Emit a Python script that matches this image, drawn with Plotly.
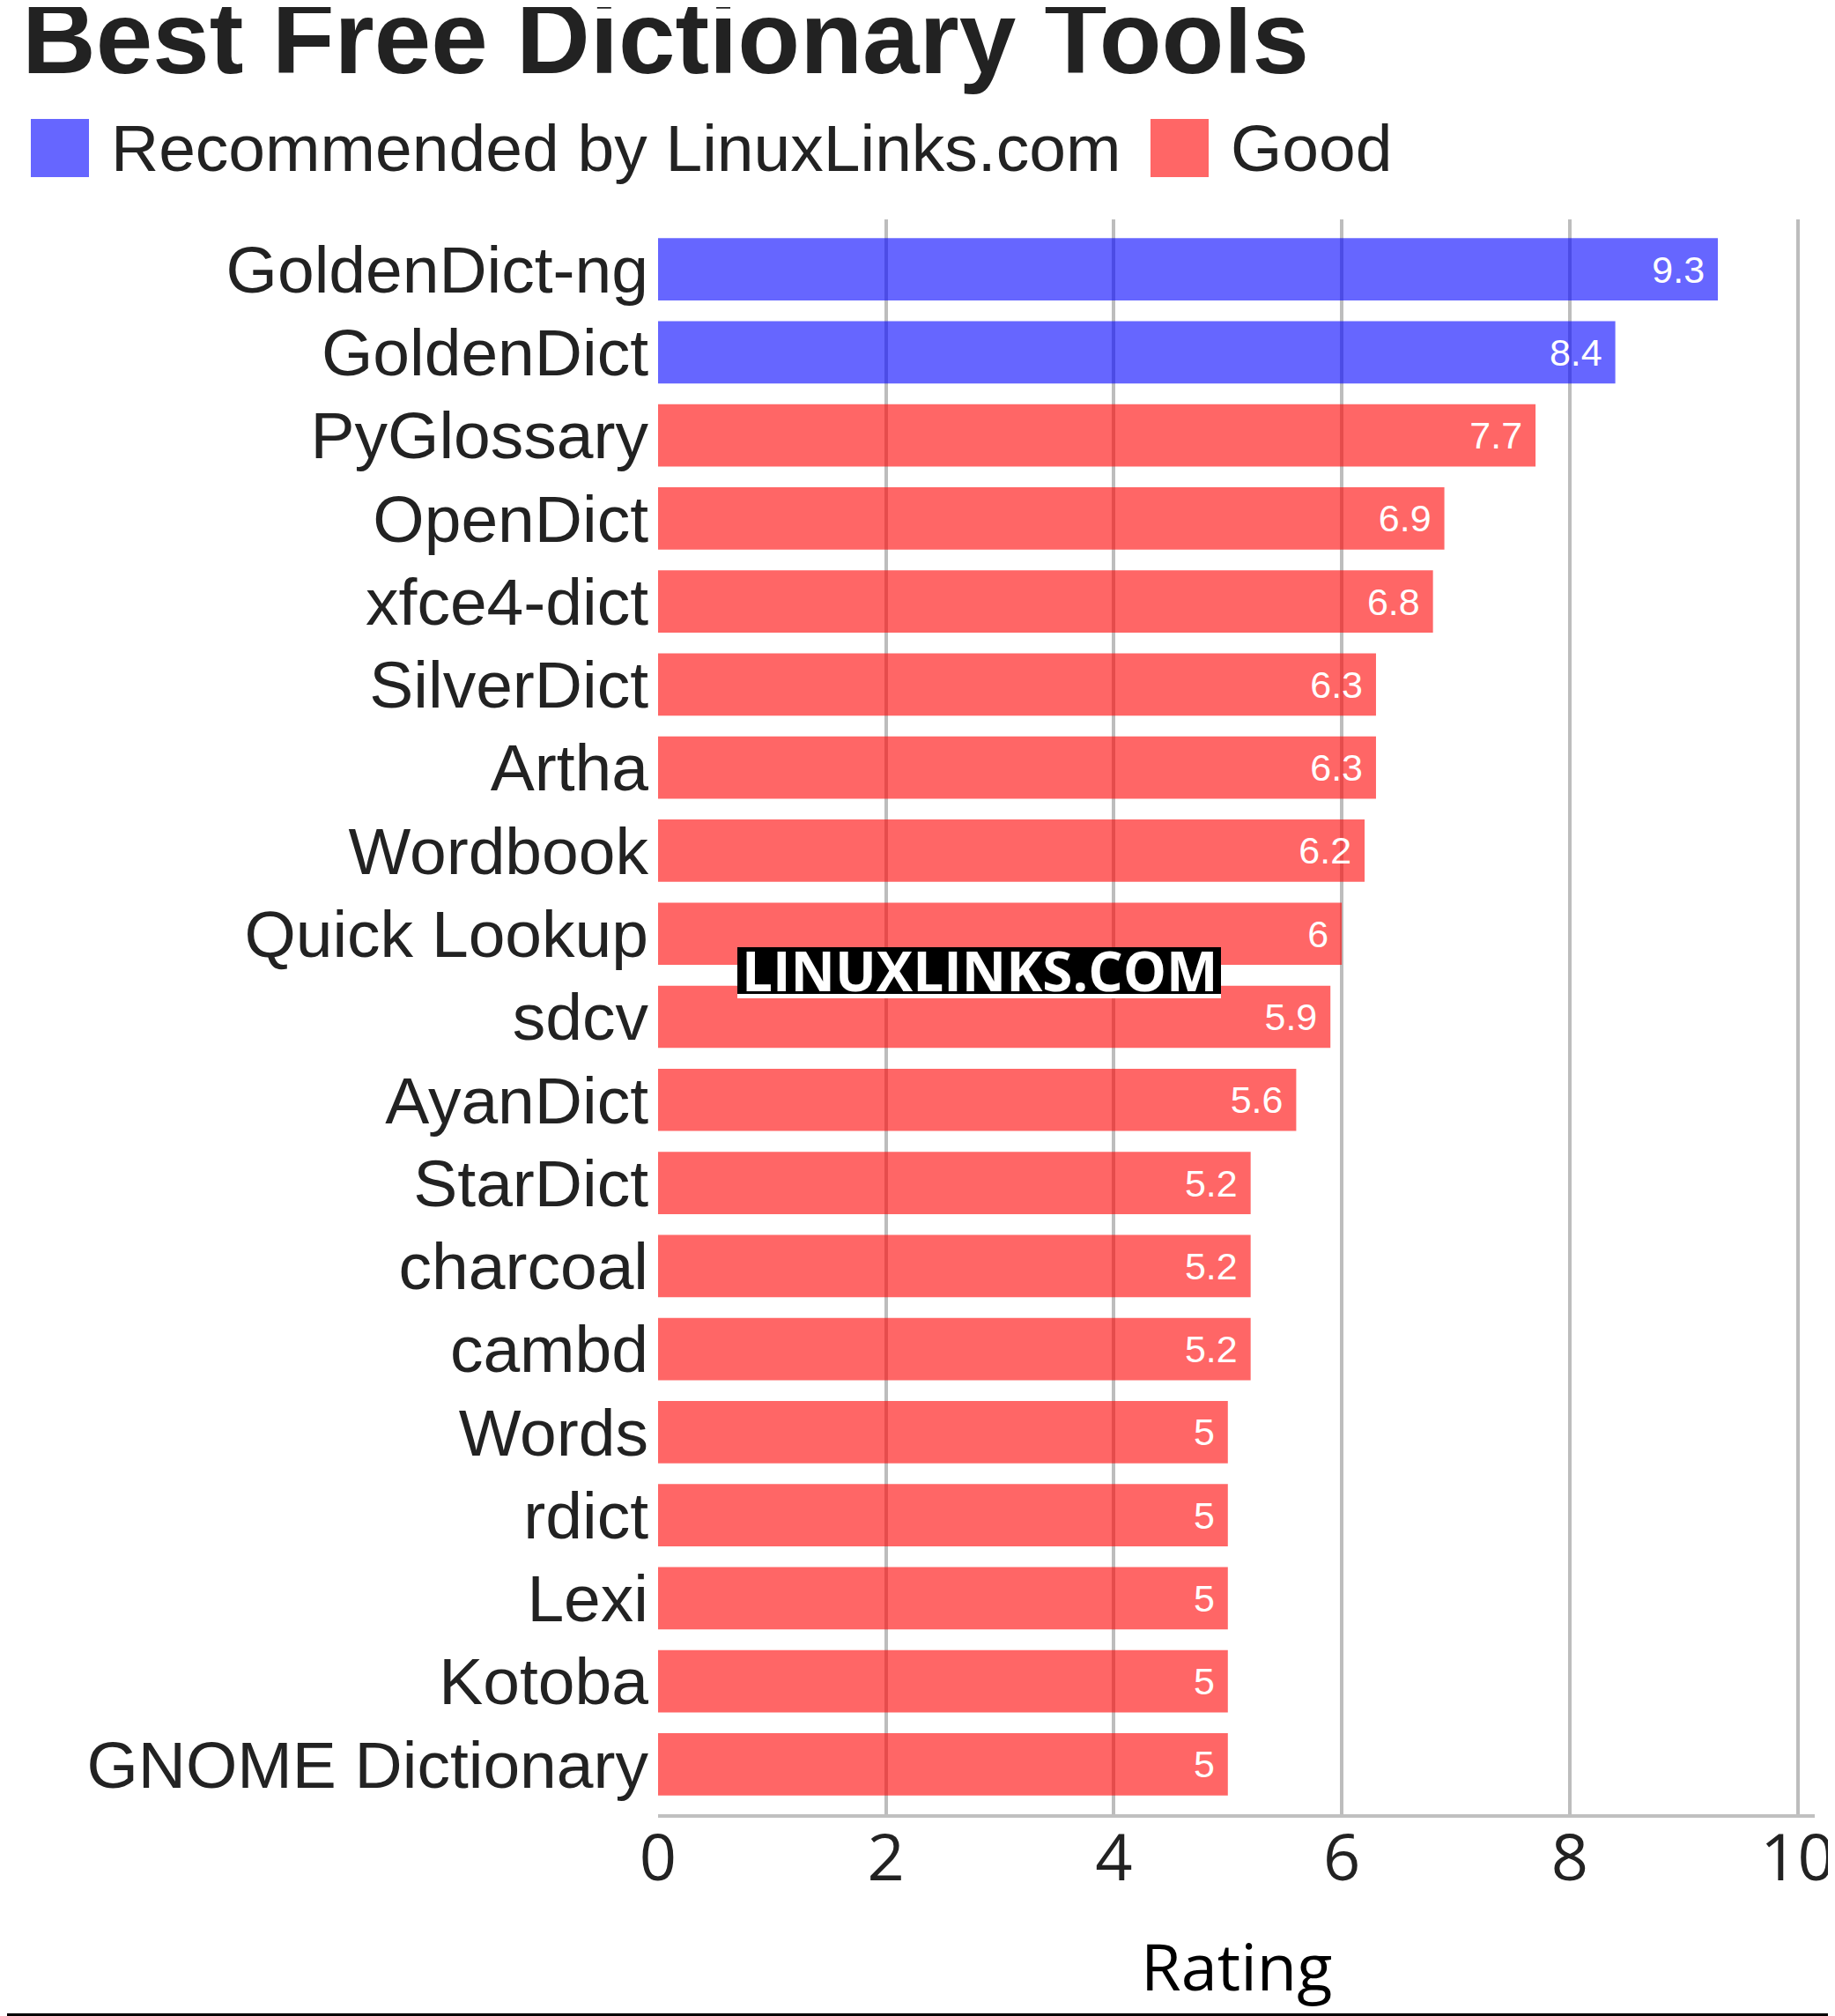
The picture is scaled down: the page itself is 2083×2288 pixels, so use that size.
import plotly.graph_objects as go

# ---- data ----
tools = ["GoldenDict-ng", "GoldenDict", "PyGlossary", "OpenDict", "xfce4-dict",
         "SilverDict", "Artha", "Wordbook", "Quick Lookup", "sdcv", "AyanDict",
         "StarDict", "charcoal", "cambd", "Words", "rdict", "Lexi", "Kotoba",
         "GNOME Dictionary"]
ratings = [9.3, 8.4, 7.7, 6.9, 6.8, 6.3, 6.3, 6.2, 6, 5.9, 5.6, 5.2, 5.2, 5.2,
           5, 5, 5, 5, 5]
groups = ["Recommended by LinuxLinks.com"] * 2 + ["Good"] * 17
group_names = ["Recommended by LinuxLinks.com", "Good"]
group_colors = {"Recommended by LinuxLinks.com": "rgba(0,0,255,0.6)",
                "Good": "rgba(255,0,0,0.6)"}
x_ticks = [0, 2, 4, 6, 8, 10]
x_title = "Rating"

# ---- layout geometry (screen pixels; page body has an 8px margin) ----
OFF = 8
SW, SH = 2083, 2288
W, H = SW - OFF, SH - OFF
L, R, T, B = 747, 2060, 249, 2059   # plot area in screen pixels


def px(x):
    return (x - L) / (R - L)


def py(y):
    return (B - y) / (B - T)


TXT = "#222222"
fig = go.Figure()
for g in group_names:
    ys = [t for t, gg in zip(tools, groups) if gg == g]
    xs = [v for v, gg in zip(ratings, groups) if gg == g]
    fig.add_trace(go.Bar(
        y=ys, x=xs, orientation="h", name=g,
        marker=dict(color=group_colors[g], line=dict(width=0)),
        text=[f"{v:g}\u00a0" for v in xs],
        textposition="inside", insidetextanchor="end",
        textfont=dict(family="Liberation Sans", size=43, color="white"),
        showlegend=False,
    ))

shapes = []
annotations = []

# title
annotations.append(dict(text="<b>Best Free Dictionary Tools</b>", xref="paper", yref="paper",
                        x=px(23), y=py(43), xanchor="left", yanchor="middle",
                        showarrow=False,
                        font=dict(family="Liberation Sans", size=116, color=TXT)))

# manual legend
legend_items = [("Recommended by LinuxLinks.com", 35, 124), ("Good", 1306, 1395)]
for name, sx, tx in legend_items:
    shapes.append(dict(type="rect", xref="paper", yref="paper",
                       x0=px(sx), x1=px(sx + 66), y0=py(201), y1=py(135),
                       fillcolor=group_colors[name], line=dict(width=0)))
    annotations.append(dict(text=name, xref="paper", yref="paper",
                            x=px(tx), y=py(168), xanchor="left", yanchor="middle",
                            showarrow=False,
                            font=dict(family="Liberation Sans", size=75, color=TXT)))

# x axis title
annotations.append(dict(text=x_title, xref="paper", yref="paper",
                        x=0.5, y=py(2230), xanchor="center", yanchor="middle",
                        showarrow=False,
                        font=dict(family="Open Sans", size=74, color="black")))

# watermark
shapes.append(dict(type="rect", xref="paper", yref="paper", layer="above",
                   x0=px(837), x1=px(1386), y0=py(1128), y1=py(1075),
                   fillcolor="black", line=dict(width=0)))
shapes.append(dict(type="rect", xref="paper", yref="paper", layer="above",
                   x0=px(837), x1=px(1386), y0=py(1133), y1=py(1128),
                   fillcolor="white", line=dict(width=0)))
annotations.append(dict(text="<b>LINUXLINKS.COM</b>", xref="paper", yref="paper",
                        x=px(1111.5), y=py(1101), xanchor="center", yanchor="middle",
                        showarrow=False,
                        font=dict(family="Open Sans", size=62, color="white")))

# bottom border line
shapes.append(dict(type="rect", xref="paper", yref="paper",
                   x0=px(OFF), x1=px(SW), y0=py(2292), y1=py(2285),
                   fillcolor="black", line=dict(width=0)))

fig.update_layout(
    width=W, height=H,
    margin=dict(l=L - OFF, r=SW - R, t=T - OFF, b=SH - B, pad=0, autoexpand=False),
    paper_bgcolor="white", plot_bgcolor="white",
    barmode="overlay", bargap=0.25,
    showlegend=False,
    shapes=shapes, annotations=annotations,
    xaxis=dict(range=[0, 10.15], tickvals=x_ticks, ticktext=[str(v) for v in x_ticks],
               showgrid=True, gridcolor="#bdbdbd", gridwidth=3.5,
               zeroline=False, showline=True, linecolor="#c0c0c0", linewidth=4,
               ticks="", ticklabelstandoff=-18, automargin=False,
               tickfont=dict(family="Open Sans", size=74, color=TXT)),
    yaxis=dict(categoryorder="array", categoryarray=tools,
               range=[18.6, -0.6], showgrid=False, zeroline=False, showline=False,
               ticks="", ticklabelstandoff=10, automargin=False,
               tickfont=dict(family="Liberation Sans", size=75, color=TXT)),
)

fig.write_html("out.html")
